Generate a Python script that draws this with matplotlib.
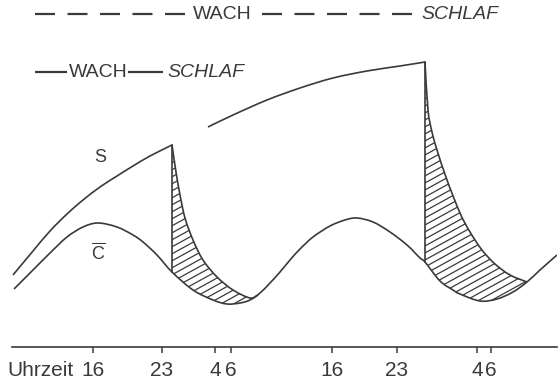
import numpy as np
import matplotlib
matplotlib.use('Agg')
import matplotlib.pyplot as plt
from matplotlib.collections import LineCollection
from matplotlib.patches import PathPatch
from matplotlib.path import Path

plt.rcParams['font.family'] = ['Liberation Sans', 'DejaVu Sans']
plt.rcParams['mathtext.fontset'] = 'custom'
plt.rcParams['mathtext.rm'] = 'Liberation Sans'
plt.rcParams['lines.scale_dashes'] = False

INK = '#3a3a3a'

# ---- data (schematic time in hours, level in arbitrary units) ----
# Process S, first day: wake rise, then sleep decay
s1_t = [8.0, 10.0, 11.7, 13.4, 15.0, 16.7, 18.4, 20.0, 21.7, 23.9,
        24.3, 24.7, 25.2, 26.0, 27.0, 28.4, 30.0, 31.7, 32.5]
s1_v = [36.0, 48.0, 58.0, 66.5, 73.5, 80.0, 85.5, 90.5, 95.5, 101.0,
        87.5, 76.0, 64.5, 53.5, 43.5, 35.0, 28.5, 24.5, 26.0]
s1_sleep_start = 23.9

# Process S, prolonged wake then recovery sleep
s2_t = [27.5, 30.0, 33.4, 36.7, 40.0, 43.4, 46.7, 49.2,
        49.5, 49.9, 50.4, 51.4, 52.7, 53.7, 54.9, 56.2, 57.7, 59.4]
s2_v = [110.0, 116.0, 123.5, 129.5, 134.5, 138.0, 140.5, 142.5,
        118.5, 107.5, 98.5, 83.5, 67.0, 57.5, 48.5, 41.5, 36.0, 32.5]
s2_sleep_start = 49.2

# Circadian threshold C
c_t = [8.1, 10.0, 11.7, 13.4, 15.0, 16.5, 18.4, 20.0, 21.0, 22.4, 23.9,
       26.0, 28.0, 29.4, 30.7, 31.7, 32.7, 33.7, 34.7, 35.7, 36.7, 38.0,
       39.7, 41.2, 42.4, 44.0, 45.7, 47.4, 48.7, 49.2, 50.7, 52.0, 52.7,
       54.7, 56.4, 58.0, 59.4, 60.7, 62.4]
c_v = [29.0, 38.5, 47.0, 55.0, 60.0, 62.0, 60.0, 56.0, 52.5, 46.0, 37.5,
       28.5, 23.5, 21.5, 22.0, 23.5, 27.0, 32.0, 37.5, 43.5, 49.0, 55.0,
       60.5, 63.5, 64.5, 62.5, 57.5, 51.0, 44.5, 42.5, 33.0, 28.5, 26.5,
       23.0, 24.0, 27.5, 32.5, 38.5, 46.0]

tick_pos = [16.0, 22.9, 28.2, 29.8, 39.9, 46.4, 54.4, 55.8]
tick_labels = ['16', '23', '4', '6', '16', '23', '4', '6']

s1_t, s1_v = np.array(s1_t), np.array(s1_v)
s2_t, s2_v = np.array(s2_t), np.array(s2_v)
c_t, c_v = np.array(c_t), np.array(c_v)


def smooth_path(x, y):
    """Catmull-Rom style cubic Bezier through the given points."""
    P = np.column_stack([x, y]).astype(float)
    n = len(P)
    verts = [P[0]]
    codes = [Path.MOVETO]
    for i in range(n - 1):
        p0 = P[i - 1] if i > 0 else P[i]
        p1, p2 = P[i], P[i + 1]
        p3 = P[i + 2] if i + 2 < n else P[i + 1]
        verts += [p1 + (p2 - p0) / 6.0, p2 - (p3 - p1) / 6.0, p2]
        codes += [Path.CURVE4] * 3
    return verts, codes


fig = plt.figure(figsize=(5.6, 3.89), dpi=100)
ax = fig.add_axes([12 / 560, 42 / 389, 545 / 560, 347 / 389])
ax.set_xlim(7.9, 62.4)
ax.set_ylim(0, 173.5)
ax.patch.set_visible(False)
for sp in ['top', 'right', 'left']:
    ax.spines[sp].set_visible(False)
ax.spines['bottom'].set_color(INK)
ax.spines['bottom'].set_linewidth(1.2)
ax.set_yticks([])
ax.set_xticks(tick_pos, tick_labels)
ax.tick_params(axis='x', direction='out', length=4, width=1.1, color=INK,
               pad=6, labelsize=15, labelcolor=INK)

lw = 1.2


def draw_curve(x, y):
    v, c = smooth_path(x, y)
    ax.add_patch(PathPatch(Path(v, c), facecolor='none', edgecolor=INK,
                           lw=lw, joinstyle='round', capstyle='butt'))


def draw_s(st, sv, t0):
    k = int(np.where(st == t0)[0][0])
    draw_curve(st[:k + 1], sv[:k + 1])      # wake
    draw_curve(st[k:], sv[k:])              # sleep


draw_s(s1_t, s1_v, s1_sleep_start)
draw_s(s2_t, s2_v, s2_sleep_start)
draw_curve(c_t, c_v)


def hatched_region(st, sv, t0):
    m = st >= t0
    t_end = st[m][-1]
    v1, c1 = smooth_path(st[m], sv[m])
    cm = (c_t >= t0) & (c_t < t_end)
    rx = np.concatenate([[st[m][-1]], c_t[cm][::-1]])
    ry = np.concatenate([[sv[m][-1]], c_v[cm][::-1]])
    v2, c2 = smooth_path(rx, ry)
    verts = v1 + v2[1:] + [v1[0]]
    codes = c1 + c2[1:] + [Path.CLOSEPOLY]
    clip = PathPatch(Path(verts, codes), facecolor='none', edgecolor='none')
    ax.add_patch(clip)
    # vertical edge at sleep onset
    c_at = c_v[c_t == t0][0]
    ax.plot([t0, t0], [c_at, sv[m][0]], color=INK, lw=lw)
    slope, spacing = 2.75, 3.5
    xs = np.array([p[0] for p in verts])
    ys = np.array([p[1] for p in verts])
    tmin, tmax = xs.min(), xs.max()
    c_lo = ys.min() - slope * tmax
    c_hi = ys.max() - slope * tmin
    segs = [[(tmin, c + slope * tmin), (tmax, c + slope * tmax)]
            for c in np.arange(c_lo, c_hi, spacing)]
    lc = LineCollection(segs, colors=INK, linewidths=0.9)
    ax.add_collection(lc)
    lc.set_clip_path(clip)


hatched_region(s1_t, s1_v, s1_sleep_start)
hatched_region(s2_t, s2_v, s2_sleep_start)

# curve labels
ax.text(16.7, 95, 'S', ha='center', va='center', fontsize=13, color=INK)
ax.text(16.5, 47, r'$\overline{\mathrm{C}}$', ha='center', va='center',
        fontsize=13, color=INK)

# wake/sleep schedule bars
fs = 14
y1, y2 = 166.5, 137.5
ax.plot([10.2, 25.2], [y1, y1], color=INK, lw=1.6, dashes=(14.4, 9))
ax.plot([32.9, 48.0], [y1, y1], color=INK, lw=1.6, dashes=(14.4, 9))
ax.text(26.0, y1, 'WACH', ha='left', va='center', fontsize=fs, color=INK)
ax.text(48.8, y1, 'SCHLAF', ha='left', va='center', fontsize=fs,
        style='italic', color=INK)

ax.plot([10.2, 13.4], [y2, y2], color=INK, lw=1.6, solid_capstyle='butt')
ax.plot([19.5, 23.0], [y2, y2], color=INK, lw=1.6, solid_capstyle='butt')
ax.text(13.6, y2, 'WACH', ha='left', va='center', fontsize=fs, color=INK)
ax.text(23.4, y2, 'SCHLAF', ha='left', va='center', fontsize=fs,
        style='italic', color=INK)

ax.annotate('Uhrzeit', xy=(7.4, 0), xytext=(0, -10),
            textcoords='offset points', ha='left', va='top', fontsize=15,
            color=INK, annotation_clip=False)

fig.savefig('out.png', dpi=100)
